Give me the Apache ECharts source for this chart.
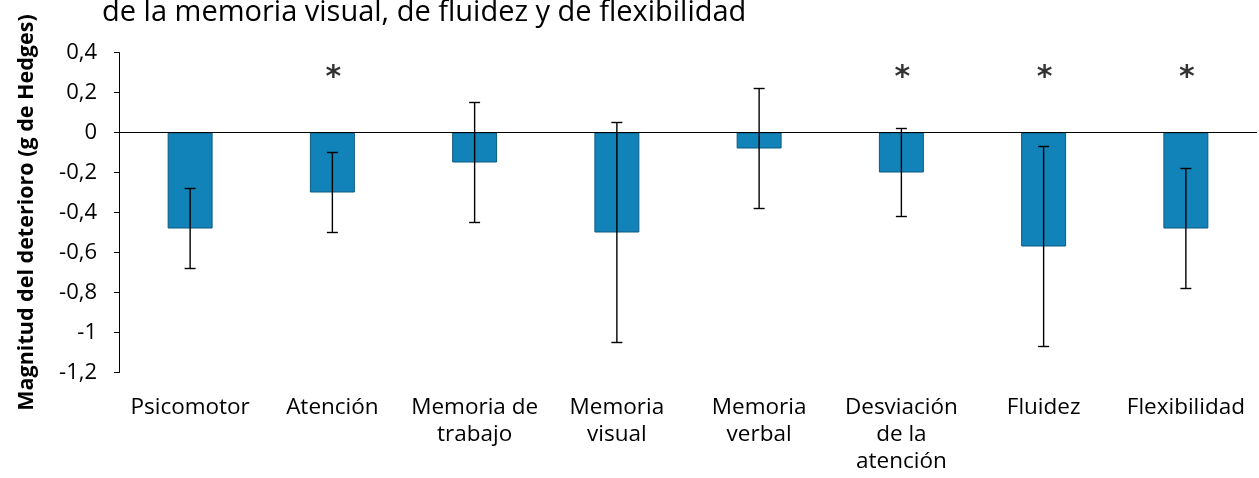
<!DOCTYPE html>
<html>
<head>
<meta charset="utf-8">
<script src="https://cdn.jsdelivr.net/npm/echarts@6/dist/echarts.min.js"></script>
<style>html,body{margin:0;padding:0;background:#fff}#c{width:1259px;height:478px}</style>
</head>
<body>
<div id="c"></div>
<script>
const categories = ['Psicomotor', 'Atención', 'Memoria de\ntrabajo', 'Memoria\nvisual', 'Memoria\nverbal', 'Desviación\nde la\natención', 'Fluidez', 'Flexibilidad'];
const values = [-0.48, -0.30, -0.15, -0.50, -0.08, -0.20, -0.57, -0.48];
const errors = [0.20, 0.20, 0.30, 0.55, 0.30, 0.22, 0.50, 0.30];
const significant = [false, true, false, false, false, true, true, true];
const starLevel = 0.3;
const yTicks = [-1.2, -1, -0.8, -0.6, -0.4, -0.2, 0, 0.2, 0.4];

const FONT = 'Open Sans';
const chart = echarts.init(document.getElementById('c'), null, {renderer: 'canvas'});

const errData = values.map((v, i) => [i, v - errors[i], v + errors[i]]);
const starData = significant.map((s, i) => s ? [i, starLevel] : null).filter(d => d);

chart.setOption({
  animation: false,
  textStyle: {fontFamily: FONT},
  title: {
    text: 'de la memoria visual, de fluidez y de flexibilidad',
    left: 102, top: -2, padding: 0,
    textStyle: {fontFamily: FONT, fontSize: 29, fontWeight: 'normal', color: '#000'}
  },
  grid: {left: 119, right: 2, top: 52.5, bottom: 105.5, containLabel: false},
  xAxis: {
    type: 'category',
    data: categories,
    axisLine: {show: false, onZero: false},
    axisTick: {show: false},
    axisLabel: {color: '#000', fontSize: 22.5, fontFamily: FONT, margin: 22, lineHeight: 27, interval: 0}
  },
  yAxis: {
    type: 'value',
    min: yTicks[0], max: yTicks[yTicks.length - 1], interval: 0.2,
    name: 'Magnitud del deterioro (g de Hedges)',
    nameLocation: 'middle', nameRotate: 90, nameGap: 81,
    nameTextStyle: {color: '#000', fontSize: 21.5, fontWeight: 'bold', fontFamily: FONT},
    axisLine: {show: true, lineStyle: {color: '#000', width: 1}},
    axisTick: {show: true, inside: false, length: 5, lineStyle: {color: '#000'}},
    splitLine: {show: false},
    axisLabel: {
      color: '#000', fontSize: 22, fontFamily: FONT, margin: 22,
      formatter: v => {
        const r = Math.round(v * 10) / 10;
        return String(r).replace('.', ',');
      }
    }
  },
  series: [
    {
      type: 'bar',
      data: values,
      barWidth: '31.6%',
      itemStyle: {color: '#1283b9', borderColor: '#0b5a82', borderWidth: 1},
      markLine: {
        silent: true, symbol: 'none', label: {show: false},
        lineStyle: {color: '#000', width: 1.2, type: 'solid'},
        data: [{yAxis: 0}]
      },
      z: 2
    },
    {
      type: 'custom',
      data: errData,
      renderItem: (params, api) => {
        const x = api.coord([api.value(0), api.value(1)])[0];
        const yLo = api.coord([api.value(0), api.value(1)])[1];
        const yHi = api.coord([api.value(0), api.value(2)])[1];
        const hw = 5.5;
        const st = {stroke: '#000', lineWidth: 1.4};
        return {
          type: 'group',
          children: [
            {type: 'line', shape: {x1: x, y1: yLo, x2: x, y2: yHi}, style: st},
            {type: 'line', shape: {x1: x - hw, y1: yLo, x2: x + hw, y2: yLo}, style: st},
            {type: 'line', shape: {x1: x - hw, y1: yHi, x2: x + hw, y2: yHi}, style: st}
          ]
        };
      },
      z: 5
    },
    {
      type: 'scatter',
      data: starData,
      symbolSize: 1,
      itemStyle: {color: 'rgba(0,0,0,0)'},
      label: {show: true, formatter: '*', position: 'inside', color: '#000', fontSize: 30, fontWeight: 'bold', fontFamily: 'DejaVu Sans', offset: [1, 6]},
      z: 6
    }
  ]
});
</script>
</body>
</html>
